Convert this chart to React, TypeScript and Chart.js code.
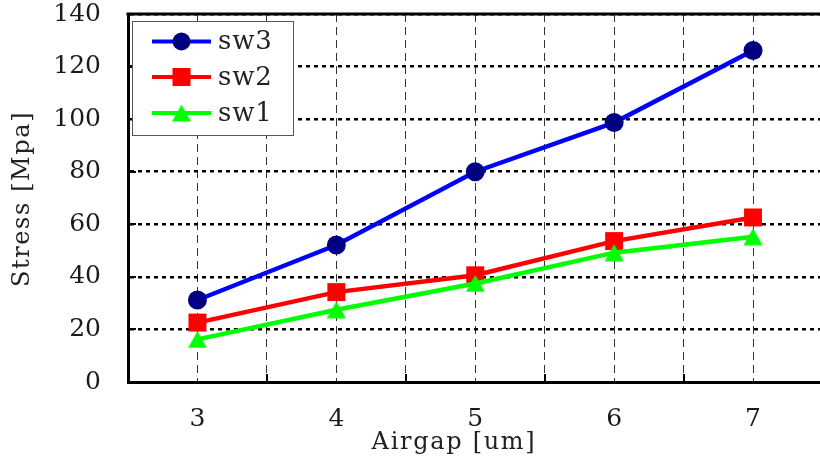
import React, { useEffect, useRef } from "react";
import { Chart, registerables } from "chart.js";

Chart.register(...registerables);

// ---- data ----
const airgap = [3, 4, 5, 6, 7];
const sw3 = [31.2, 52.1, 80.0, 98.7, 126.1];
const sw2 = [22.6, 34.2, 40.6, 53.6, 62.6];
const sw1 = [16.2, 27.5, 37.5, 49.2, 55.3];
const seriesNames = ["sw3", "sw2", "sw1"];
const xTicks = [2.5, 3, 3.5, 4, 4.5, 5, 5.5, 6, 6.5, 7];
const minorXTicks = [3.5, 4.5, 5.5, 6.5];
const yTicks = [0, 20, 40, 60, 80, 100, 120, 140];
const yMinorMarks = [20, 40, 60, 80, 100, 120];
const xTitle = "Airgap [um]";
const yTitle = "Stress [Mpa]";

const FONT = "'DejaVu Serif', 'Liberation Serif', serif";

function makeTriangle(color: string) {
  const c = document.createElement("canvas");
  c.width = 20;
  c.height = 18;
  const g = c.getContext("2d")!;
  g.fillStyle = color;
  g.beginPath();
  g.moveTo(10, 0.5);
  g.lineTo(19.5, 17.5);
  g.lineTo(0.5, 17.5);
  g.closePath();
  g.fill();
  return c;
}

const zeroPad = (s: any) => {
  s.paddingTop = 0;
  s.paddingBottom = 0;
  s.paddingLeft = 0;
  s.paddingRight = 0;
};

export default function App() {
  const ref = useRef<HTMLCanvasElement | null>(null);

  useEffect(() => {
    document.body.style.margin = "0";
    const canvas = ref.current!;
    const tri = makeTriangle("#00ff00");

    const extras = {
      id: "extras",
      afterDraw(chart: any) {
        const { ctx, chartArea } = chart;
        const xs = chart.scales.x;
        const ys = chart.scales.y;
        ctx.save();
        // top border
        ctx.strokeStyle = "#000";
        ctx.lineWidth = 3;
        ctx.beginPath();
        ctx.moveTo(chartArea.left - 1.5, chartArea.top);
        ctx.lineTo(chartArea.right, chartArea.top);
        ctx.stroke();
        // inward ticks
        ctx.lineWidth = 2;
        minorXTicks.forEach((v) => {
          const px = Math.round(xs.getPixelForValue(v));
          ctx.beginPath();
          ctx.moveTo(px, chartArea.bottom);
          ctx.lineTo(px, chartArea.bottom - 8);
          ctx.stroke();
        });
        yMinorMarks.forEach((v) => {
          const py = Math.round(ys.getPixelForValue(v));
          ctx.beginPath();
          ctx.moveTo(chartArea.left, py);
          ctx.lineTo(chartArea.left + 8, py);
          ctx.stroke();
        });
        // axis titles
        ctx.fillStyle = "#222";
        ctx.font = `24px ${FONT}`;
        ctx.textAlign = "center";
        ctx.textBaseline = "middle";
        (ctx as any).letterSpacing = "1.7px";
        ctx.fillText(xTitle, 454, 443);
        ctx.save();
        ctx.translate(23, 200);
        ctx.rotate(-Math.PI / 2);
        (ctx as any).letterSpacing = "1.6px";
        ctx.fillText(yTitle, 1, 0);
        ctx.restore();
        (ctx as any).letterSpacing = "0px";

        // legend
        const bx = chartArea.left + 4;
        const by = chartArea.top + 7;
        const bw = 161;
        const bh = 114;
        ctx.fillStyle = "#fff";
        ctx.fillRect(bx, by, bw, bh);
        ctx.strokeStyle = "#555";
        ctx.lineWidth = 1;
        ctx.strokeRect(bx + 0.5, by + 0.5, bw, bh);
        const rows = [by + 20.5, by + 56, by + 92];
        chart.data.datasets.forEach((ds: any, i: number) => {
          const y = rows[i];
          ctx.strokeStyle = ds.borderColor;
          ctx.lineWidth = 4;
          ctx.beginPath();
          ctx.moveTo(bx + 20, y);
          ctx.lineTo(bx + 79, y);
          ctx.stroke();
          const cx = bx + 49.5;
          ctx.fillStyle = ds.pointBackgroundColor;
          if (i === 0) {
            ctx.beginPath();
            ctx.arc(cx, y, 9, 0, Math.PI * 2);
            ctx.fill();
          } else if (i === 1) {
            ctx.fillRect(cx - 9, y - 9, 18, 18);
          } else {
            ctx.drawImage(tri, cx - 10, y - 9);
          }
          ctx.fillStyle = "#222";
          ctx.font = `26px ${FONT}`;
          ctx.textAlign = "left";
          ctx.textBaseline = "middle";
          (ctx as any).letterSpacing = "0.8px";
          ctx.fillText(ds.label, bx + 86, y + 1);
          (ctx as any).letterSpacing = "0px";
        });
        ctx.restore();
      },
    };

    const toPts = (arr: number[]) => arr.map((v, i) => ({ x: airgap[i], y: v }));

    const chart = new Chart(canvas, {
      type: "line",
      data: {
        datasets: [
          {
            label: seriesNames[0],
            data: toPts(sw3),
            borderColor: "#0000ff",
            borderWidth: 4.5,
            pointBackgroundColor: "#000080",
            pointBorderColor: "#000080",
            pointBorderWidth: 0,
            pointRadius: 9.5,
            pointStyle: "circle",
            order: 2,
            clip: false as any,
          },
          {
            label: seriesNames[1],
            data: toPts(sw2),
            borderColor: "#ff0000",
            borderWidth: 4.5,
            pointBackgroundColor: "#ff0000",
            pointBorderColor: "#ff0000",
            pointBorderWidth: 0,
            pointRadius: 12.7,
            pointStyle: "rect",
            order: 1,
            clip: false as any,
          },
          {
            label: seriesNames[2],
            data: toPts(sw1),
            borderColor: "#00ff00",
            borderWidth: 4.5,
            pointBackgroundColor: "#00ff00",
            pointBorderColor: "#00ff00",
            pointBorderWidth: 0,
            pointRadius: 10,
            pointStyle: tri as any,
            order: 0,
            clip: false as any,
          },
        ],
      },
      options: {
        responsive: false,
        animation: false,
        devicePixelRatio: 1,
        layout: { autoPadding: false, padding: { top: 14, left: 0, right: 0, bottom: 0 } },
        plugins: { legend: { display: false }, tooltip: { enabled: false } },
        scales: {
          x: {
            type: "linear",
            min: 2.5,
            max: 7.482,
            afterBuildTicks: (s: any) => {
              s.ticks = xTicks.map((v) => ({ value: v }));
            },
            afterFit: (s: any) => {
              s.height = 81;
              zeroPad(s);
            },
            ticks: {
              callback: (v: any) => (Number.isInteger(v) ? String(v) : ""),
              font: { family: FONT, size: 25, lineHeight: 1.1 },
              color: "#1a1a1a",
              padding: 24,
              maxRotation: 0,
              autoSkip: false,
            },
            grid: { color: "#333", lineWidth: 1, drawTicks: false },
            border: { display: true, color: "#000", width: 3, dash: [8, 5] },
          },
          y: {
            min: 0,
            max: 140,
            afterBuildTicks: (s: any) => {
              s.ticks = yTicks.map((v) => ({ value: v }));
            },
            afterFit: (s: any) => {
              s.width = 128;
              zeroPad(s);
            },
            ticks: {
              font: { family: FONT, size: 25, lineHeight: 1.1 },
              color: "#1a1a1a",
              padding: 27,
            },
            grid: { color: "#000", lineWidth: 2.5, drawTicks: false },
            border: { display: true, color: "#000", width: 3, dash: [4, 4] },
          },
        },
      },
      plugins: [extras],
    } as any);

    return () => chart.destroy();
  }, []);

  return (
    <div style={{ width: 820, height: 463 }}>
      <canvas ref={ref} width={820} height={463} style={{ display: "block" }} />
    </div>
  );
}
